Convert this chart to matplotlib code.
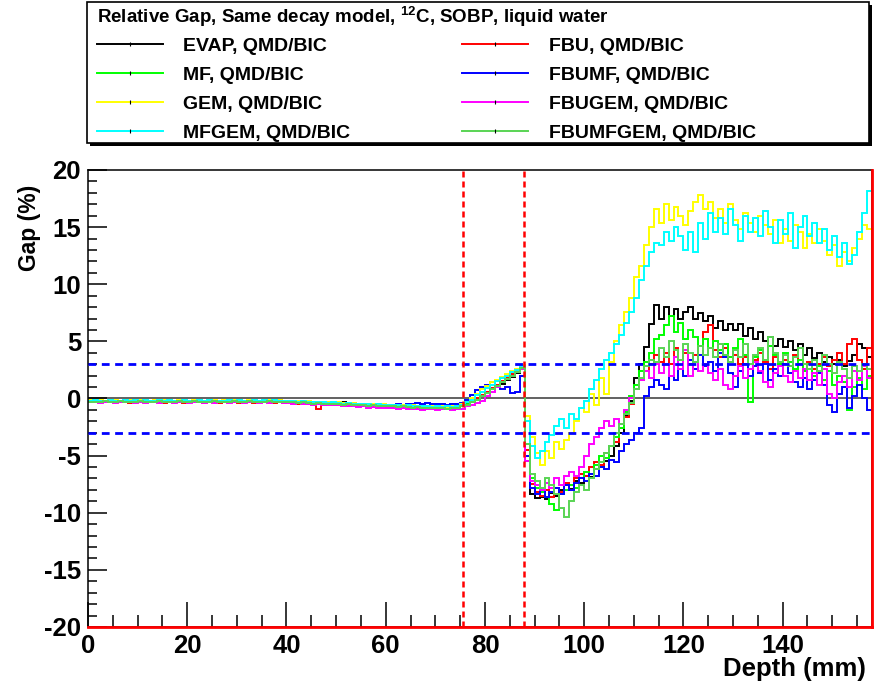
import numpy as np
import matplotlib
matplotlib.use('Agg')
import matplotlib.pyplot as plt
from matplotlib.lines import Line2D
from matplotlib.patches import Rectangle
from matplotlib.ticker import MultipleLocator

plt.rcParams['font.family'] = ['Liberation Sans', 'DejaVu Sans']
plt.rcParams['font.weight'] = 'bold'
plt.rcParams['axes.unicode_minus'] = False
plt.rcParams['mathtext.fontset'] = 'custom'
plt.rcParams['mathtext.rm'] = 'Liberation Sans:bold'
plt.rcParams['mathtext.default'] = 'rm'

# depth bins (1 mm), values are relative gap in %
depth_edges = np.arange(0, 159, 1)

evap = [
    -0.2, -0.3, -0.25, -0.3, -0.2, -0.3, -0.25, -0.2, -0.3, -0.25,
    -0.3, -0.2, -0.25, -0.3, -0.2, -0.25, -0.3, -0.2, -0.3, -0.25,
    -0.2, -0.3, -0.2, -0.25, -0.2, -0.3, -0.2, -0.25, -0.3, -0.2,
    -0.25, -0.2, -0.3, -0.2, -0.25, -0.2, -0.3, -0.2, -0.1, -0.2,
    -0.2, -0.25, -0.3, -0.2, -0.3, -0.35, -0.3, -0.4, -0.35, -0.4,
    -0.4, -0.35, -0.45, -0.4, -0.5, -0.45, -0.5, -0.55, -0.5, -0.6,
    -0.55, -0.6, -0.65, -0.6, -0.7, -0.65, -0.7, -0.75, -0.8, -0.75,
    -0.8, -0.85, -0.8, -0.75, -0.7, -0.6, -0.5, -0.3, -0.1, 0.2,
    0.5, 0.8, 1.0, 1.3, 1.6, 1.9, 2.2, 2.7, -5.5, -8.4,
    -8.7, -8.6, -8.8, -8.3, -8.5, -8.0, -7.6, -7.9, -7.2, -7.4,
    -6.8, -6.9, -6.2, -6.0, -5.5, -5.0, -4.2, -3.0, -1.5, -0.2,
    1.8, 3.0, 4.5, 6.5, 8.2, 7.0, 8.0, 7.2, 7.8, 7.0,
    7.6, 8.0, 7.0, 7.5, 6.8, 7.2, 6.2, 6.8, 6.0, 6.5,
    6.0, 6.5, 5.5, 6.2, 5.2, 5.8, 5.0, 5.4, 4.6, 5.2,
    4.5, 5.0, 4.2, 4.8, 3.8, 4.4, 3.5, 4.0, 3.2, 3.6,
    3.0, 3.4, 2.8, 3.3, 3.8, 4.8, 4.4, 3.6]

fbu = [
    -0.3, -0.25, -0.35, -0.3, -0.25, -0.3, -0.35, -0.3, -0.4, -0.3,
    -0.35, -0.3, -0.25, -0.35, -0.3, -0.4, -0.3, -0.35, -0.3, -0.4,
    -0.3, -0.35, -0.3, -0.4, -0.35, -0.3, -0.4, -0.35, -0.3, -0.35,
    -0.4, -0.3, -0.35, -0.4, -0.3, -0.35, -0.3, -0.4, -0.35, -0.4,
    -0.35, -0.4, -0.45, -0.4, -0.5, -0.45, -0.9, -0.55, -0.5, -0.6,
    -0.55, -0.6, -0.65, -0.6, -0.7, -0.65, -0.65, -0.7, -0.75, -0.7,
    -0.75, -0.8, -0.7, -0.85, -0.8, -0.75, -0.85, -0.9, -0.8, -0.85,
    -0.9, -0.85, -0.95, -0.85, -0.8, -0.7, -0.5, -0.3, 0.0, 0.3,
    0.6, 0.9, 1.2, 1.5, 1.8, 2.1, 2.4, 2.6, -4.5, -7.5,
    -8.2, -8.5, -8.0, -8.6, -7.8, -8.2, -7.4, -7.6, -7.0, -6.6,
    -6.8, -6.0, -5.6, -5.8, -4.8, -4.2, -3.8, -2.6, -1.6, -0.5,
    0.8, 1.6, 2.4, 3.0, 3.8, 3.2, 4.0, 3.0, 4.4, 3.4,
    4.0, 3.0, 3.8, 4.6, 5.8, 6.4, 4.2, 3.6, 4.4, 3.2,
    3.8, 3.0, 3.6, 2.6, 3.4, 4.0, 3.2, 2.6, 3.6, 3.0,
    3.4, 2.8, 3.8, 3.0, 2.4, 3.2, 2.6, 3.0, 3.6, 2.8,
    3.4, 4.0, 3.0, 4.8, 5.2, 3.4, 2.6, 4.4]

mf = [
    -0.25, -0.2, -0.3, -0.25, -0.2, -0.3, -0.2, -0.25, -0.2, -0.3,
    -0.2, -0.25, -0.2, -0.3, -0.25, -0.2, -0.3, -0.2, -0.25, -0.2,
    -0.25, -0.2, -0.3, -0.2, -0.25, -0.3, -0.2, -0.25, -0.2, -0.3,
    -0.2, -0.25, -0.2, -0.3, -0.2, -0.25, -0.2, -0.3, -0.25, -0.2,
    -0.3, -0.25, -0.3, -0.35, -0.3, -0.4, -0.35, -0.4, -0.45, -0.4,
    -0.45, -0.5, -0.45, -0.5, -0.55, -0.5, -0.6, -0.55, -0.6, -0.65,
    -0.6, -0.65, -0.7, -0.65, -0.7, -0.75, -0.7, -0.8, -0.75, -0.8,
    -0.85, -0.8, -0.85, -0.8, -0.75, -0.65, -0.5, -0.3, -0.1, 0.2,
    0.5, 0.8, 1.1, 1.4, 1.7, 2.0, 2.3, 2.6, -4.0, -7.0,
    -7.8, -8.2, -8.6, -9.2, -9.8, -8.4, -8.0, -7.6, -7.8, -7.0,
    -6.4, -6.6, -5.8, -5.0, -5.2, -4.2, -3.4, -2.6, -1.2, 0.2,
    1.2, 2.4, 3.2, 4.0, 5.2, 5.6, 6.4, 7.2, 5.8, 6.6,
    5.2, 6.0, 5.4, 4.6, 5.2, 4.4, 5.0, 4.2, 4.8, 3.6,
    4.4, 5.2, 3.8, -0.3, 3.6, 4.2, 3.4, 4.6, 3.8, 3.0,
    4.0, 3.2, 2.6, 3.4, 2.4, 3.0, 2.0, 2.8, 1.6, 2.4,
    1.2, 2.0, 1.4, -1.0, 1.0, 1.8, 0.8, 2.0]

fbumf = [
    -0.3, -0.25, -0.3, -0.35, -0.3, -0.25, -0.3, -0.35, -0.3, -0.25,
    -0.3, -0.35, -0.3, -0.25, -0.3, -0.35, -0.25, -0.3, -0.35, -0.3,
    -0.25, -0.3, -0.35, -0.3, -0.25, -0.3, -0.35, -0.3, -0.25, -0.3,
    -0.35, -0.3, -0.25, -0.3, -0.35, -0.3, -0.25, -0.3, -0.3, -0.35,
    -0.3, -0.35, -0.3, -0.4, -0.35, -0.4, -0.35, -0.45, -0.4, -0.45,
    -0.5, -0.45, -0.5, -0.55, -0.5, -0.6, -0.55, -0.6, -0.55, -0.6,
    -0.55, -0.6, -0.5, -0.55, -0.45, -0.5, -0.4, -0.45, -0.4, -0.5,
    -0.45, -0.5, -0.55, -0.5, -0.45, -0.4, -0.1, 0.3, 0.7, 1.0,
    1.2, 1.4, 1.0, 0.8, 1.0, 0.5, 0.6, 2.0, -5.0, -7.8,
    -8.4, -8.0, -8.6, -8.2, -7.8, -8.4, -7.6, -8.0, -7.4, -7.0,
    -7.2, -6.6, -6.8, -6.0, -6.2, -5.4, -5.6, -4.6, -4.0, -3.6,
    -3.0, -2.6, 0.2, 1.0, 1.6, 1.2, 0.8, 2.0, 1.6, 2.6,
    2.0, 3.4, 2.6, 3.8, 2.8, 3.2, 2.4, 4.0, 3.6, 2.2,
    1.0, 2.4, 3.0, 2.0, 2.8, 2.2, 3.0, 1.6, 2.6, 2.0,
    3.0, 2.2, 1.4, 1.0, 1.8, 0.8, 1.6, 2.2, 1.2, -0.6,
    -1.2, 0.4, 1.0, -0.8, 0.2, 1.2, 0.0, -1.0]

gem = [
    -0.15, -0.2, -0.1, -0.2, -0.15, -0.1, -0.2, -0.15, -0.1, -0.2,
    -0.15, -0.1, -0.2, -0.15, -0.2, -0.1, -0.15, -0.2, -0.1, -0.15,
    -0.2, -0.15, -0.1, -0.2, -0.15, -0.1, -0.2, -0.15, -0.2, -0.1,
    -0.15, -0.2, -0.1, -0.15, -0.2, -0.15, -0.1, -0.2, -0.15, -0.2,
    -0.2, -0.25, -0.2, -0.3, -0.25, -0.3, -0.35, -0.3, -0.35, -0.4,
    -0.35, -0.4, -0.45, -0.4, -0.45, -0.5, -0.45, -0.5, -0.55, -0.5,
    -0.55, -0.6, -0.55, -0.6, -0.65, -0.6, -0.65, -0.7, -0.65, -0.7,
    -0.75, -0.7, -0.75, -0.7, -0.65, -0.5, -0.3, 0.0, 0.4, 0.8,
    1.1, 1.4, 1.6, 1.9, 2.1, 2.4, 2.6, 2.9, -1.5, -3.4,
    -4.8, -5.8, -4.6, -5.2, -3.8, -4.4, -3.6, -3.0, -2.0, -0.8,
    -1.2, 0.4, -0.6, 1.8, 0.4, 3.2, 5.0, 6.4, 7.6, 8.8,
    10.6, 11.6, 13.4, 15.0, 16.6, 15.4, 17.0, 15.6, 16.8, 16.0,
    15.2, 16.4, 17.2, 17.8, 16.6, 17.2, 15.8, 16.6, 15.4, 17.0,
    15.6, 14.8, 16.2, 15.4, 14.6, 16.0, 15.2, 14.4, 15.6, 13.6,
    14.8, 13.8, 15.2, 14.6, 13.2, 14.4, 13.6, 14.8, 13.8, 12.6,
    13.4, 11.6, 12.8, 12.0, 13.2, 14.0, 15.2, 14.8]

fbugem = [
    -0.35, -0.3, -0.4, -0.35, -0.3, -0.4, -0.35, -0.3, -0.35, -0.4,
    -0.35, -0.4, -0.3, -0.35, -0.4, -0.35, -0.3, -0.4, -0.35, -0.3,
    -0.4, -0.35, -0.3, -0.4, -0.35, -0.4, -0.3, -0.35, -0.4, -0.35,
    -0.3, -0.4, -0.35, -0.3, -0.4, -0.35, -0.4, -0.3, -0.35, -0.4,
    -0.4, -0.45, -0.4, -0.5, -0.45, -0.55, -0.5, -0.55, -0.6, -0.55,
    -0.6, -0.65, -0.7, -0.65, -0.75, -0.7, -0.8, -0.75, -0.8, -0.85,
    -0.8, -0.85, -0.9, -0.85, -0.9, -0.95, -0.9, -1.0, -0.95, -0.9,
    -1.0, -0.95, -0.9, -1.0, -0.95, -0.9, -0.7, -0.6, -0.4, -0.2,
    0.2, 0.6, 1.0, 1.4, 1.7, 2.0, 2.3, 2.6, -5.5, -7.2,
    -7.6, -8.0, -7.4, -7.8, -7.0, -7.6, -6.8, -6.4, -6.8, -6.0,
    -5.0, -4.0, -3.4, -2.6, -2.0, -2.4, -1.8, -2.2, -1.0, 0.0,
    0.8, 1.6, 2.4, 1.8, 3.0, 2.2, 3.0, 2.0, 3.6, 2.6,
    4.2, 2.0, 3.2, 2.4, 3.0, 2.2, 1.6, 2.6, 1.2, 0.8,
    2.0, 2.8, 1.8, 2.6, 3.2, 2.4, 1.4, 1.0, 2.2, 2.8,
    2.0, 1.4, 2.4, 1.8, 2.6, 1.6, 2.2, 1.2, 2.6, 0.4,
    0.0, 1.4, 2.0, 1.0, 2.4, 1.6, 2.8, 1.8]

mfgem = [
    -0.2, -0.15, -0.25, -0.2, -0.15, -0.2, -0.25, -0.15, -0.2, -0.1,
    -0.2, -0.15, -0.2, -0.25, -0.15, -0.2, -0.15, -0.25, -0.2, -0.15,
    -0.2, -0.25, -0.15, -0.2, -0.15, -0.2, -0.25, -0.2, -0.15, -0.2,
    -0.15, -0.2, -0.25, -0.15, -0.2, -0.1, -0.2, -0.15, -0.25, -0.2,
    -0.25, -0.2, -0.3, -0.25, -0.3, -0.35, -0.3, -0.35, -0.4, -0.35,
    -0.4, -0.45, -0.4, -0.45, -0.5, -0.45, -0.5, -0.55, -0.5, -0.55,
    -0.6, -0.55, -0.6, -0.65, -0.6, -0.65, -0.7, -0.65, -0.7, -0.75,
    -0.7, -0.75, -0.7, -0.75, -0.7, -0.55, -0.35, -0.1, 0.3, 0.6,
    0.9, 1.2, 1.5, 1.8, 2.0, 2.3, 2.5, 2.8, -2.0, -4.2,
    -5.2, -4.6, -3.8, -3.2, -2.4, -1.8, -2.6, -1.4, -1.8, -0.8,
    -0.2, 0.8, 1.6, 2.6, 3.4, 4.0, 4.8, 5.6, 6.6, 7.6,
    8.8, 10.4, 11.6, 12.8, 13.6, 13.4, 14.6, 13.8, 15.0, 14.2,
    13.0, 14.6, 12.8, 15.4, 14.0, 16.2, 14.6, 15.8, 14.4, 16.6,
    15.2, 13.8, 16.0, 14.6, 15.8, 14.2, 16.4, 15.0, 13.6, 15.6,
    14.4, 16.2, 13.2, 15.0, 16.0, 14.2, 15.4, 13.6, 14.8, 13.0,
    14.2, 12.4, 13.6, 11.8, 12.6, 14.6, 16.2, 18.2]

fbumfgem = [
    -0.3, -0.35, -0.3, -0.25, -0.35, -0.3, -0.25, -0.3, -0.35, -0.3,
    -0.25, -0.3, -0.35, -0.3, -0.25, -0.3, -0.35, -0.3, -0.25, -0.3,
    -0.3, -0.25, -0.3, -0.35, -0.3, -0.25, -0.3, -0.35, -0.3, -0.25,
    -0.3, -0.35, -0.25, -0.3, -0.35, -0.3, -0.25, -0.3, -0.35, -0.3,
    -0.35, -0.3, -0.4, -0.35, -0.4, -0.45, -0.4, -0.5, -0.45, -0.5,
    -0.5, -0.55, -0.5, -0.6, -0.55, -0.6, -0.65, -0.6, -0.65, -0.7,
    -0.65, -0.7, -0.75, -0.7, -0.75, -0.8, -0.75, -0.8, -0.85, -0.8,
    -0.85, -0.8, -0.9, -0.85, -0.8, -0.7, -0.55, -0.35, -0.1, 0.2,
    0.5, 0.8, 1.1, 1.4, 1.7, 2.0, 2.3, 2.7, -4.0, -6.6,
    -7.2, -7.8, -7.0, -7.6, -8.4, -9.6, -10.4, -9.0, -8.2, -7.6,
    -8.0, -7.0, -6.2, -5.6, -4.8, -4.2, -3.0, -2.2, -1.4, -0.4,
    0.8, 1.8, 2.8, 3.4, 3.2, 4.4, 3.6, 5.0, 4.2, 3.4,
    4.8, 4.0, 3.2, 4.6, 3.8, 4.4, 3.6, 4.8, 3.8, 3.2,
    4.2, 3.6, 4.8, 3.0, 3.8, 4.4, 3.4, 5.4, 4.0, 3.2,
    3.8, 2.8, 3.6, 4.4, 3.0, 2.6, 3.4, 2.4, 3.8, 3.0,
    2.2, 3.2, 2.6, 1.8, 2.8, 2.4, 3.0, 2.6]

labels = ['EVAP, QMD/BIC', 'MF, QMD/BIC', 'GEM, QMD/BIC', 'MFGEM, QMD/BIC',
          'FBU, QMD/BIC', 'FBUMF, QMD/BIC', 'FBUGEM, QMD/BIC', 'FBUMFGEM, QMD/BIC']
series = [evap, mf, gem, mfgem, fbu, fbumf, fbugem, fbumfgem]
colors = ['#000000', '#00ff00', '#ffff00', '#00ffff',
          '#ff0000', '#0000ff', '#ff00ff', '#59d454']
draw_order = [0, 4, 1, 5, 2, 6, 3, 7]
legend_title = 'Relative Gap, Same decay model, $^{12}$C, SOBP, liquid water'

peak_lines = [75.6, 87.8]   # red dashed markers (mm)
tolerance = [-3, 3]         # blue dashed band (%)

fig = plt.figure(figsize=(8.74, 6.89), dpi=100)
ax = fig.add_axes([0.1007, 0.0900, 0.8970, 0.6633])

ax.axhline(0, color='#555555', lw=1.3, zorder=1)
for i in draw_order:
    ax.stairs(series[i], depth_edges, color=colors[i], lw=1.4, baseline=None, zorder=2)

for t in tolerance:
    ax.axhline(t, color='#0000ff', lw=2.0, ls=(0, (2.8, 2.0)), zorder=3)
for p in peak_lines:
    ax.axvline(p, color='#ff0000', lw=1.8, ls=(0, (2.4, 1.6)), zorder=3)
ax.axvline(158, color='#ff0000', lw=2.0, zorder=4, clip_on=False)
ax.axhline(-20, color='#ff0000', lw=2.0, zorder=4, clip_on=False)

ax.set_xlim(0, 158)
ax.set_ylim(-20, 20)
ax.xaxis.set_major_locator(MultipleLocator(20))
ax.xaxis.set_minor_locator(MultipleLocator(5))
ax.yaxis.set_major_locator(MultipleLocator(5))
ax.yaxis.set_minor_locator(MultipleLocator(1))
ax.tick_params(which='both', direction='in', top=False, right=False,
               width=1.1, labelsize=18.5, pad=5)
ax.tick_params(axis='x', which='major', length=18)
ax.tick_params(axis='x', which='minor', length=8.5)
ax.tick_params(axis='y', which='major', length=13.5)
ax.tick_params(axis='y', which='minor', length=6.5)
for s in ax.spines.values():
    s.set_linewidth(1.1)

ax.set_xlabel('Depth (mm)', fontsize=18.5, fontweight='bold', loc='right')
ax.xaxis.set_label_coords(0.992, -0.066)
ax.set_ylabel('Gap (%)', fontsize=16.5, fontweight='bold', loc='top')
ax.yaxis.set_label_coords(-0.06, 0.967)

# legend box with ROOT-like solid shadow
box = [0.0995, 0.7925, 0.8945, 0.2045]
fig.add_artist(Rectangle((box[0] + 0.0035, box[1] - 0.0045), box[2], box[3],
                         transform=fig.transFigure, facecolor='black',
                         edgecolor='black', lw=0, zorder=1))
fig.add_artist(Rectangle((box[0], box[1]), box[2], box[3],
                         transform=fig.transFigure, facecolor='white',
                         edgecolor='black', lw=1.2, zorder=2))
fig.text(0.111, 1 - 17 / 689, legend_title, fontsize=13.5, fontweight='bold',
         ha='left', va='center', zorder=5)

handles = [Line2D([], [], color=c, lw=1.4, marker='|', markersize=3,
                  markeredgecolor='black', markeredgewidth=0.8) for c in colors]
leg = fig.legend(handles, labels, ncol=2, frameon=False, numpoints=1,
                 loc='upper left', bbox_to_anchor=(0.106, 0.9515),
                 bbox_transform=fig.transFigure, borderaxespad=0, borderpad=0.2,
                 fontsize=14, handlelength=3.4, handletextpad=1.05,
                 columnspacing=5.75, labelspacing=0.58)
leg.set_zorder(5)

fig.savefig('out.png', dpi=100)
